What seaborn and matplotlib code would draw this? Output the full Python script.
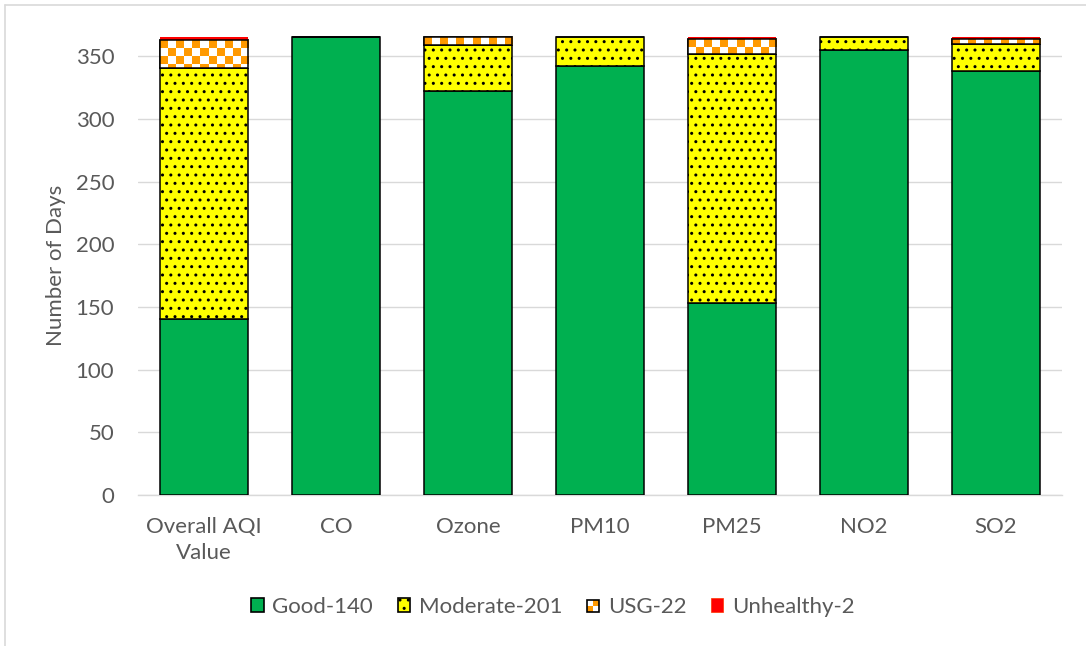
import numpy as np
import pandas as pd
import matplotlib.pyplot as plt
import seaborn as sns
from matplotlib.patches import Rectangle
from matplotlib.lines import Line2D
from matplotlib.legend_handler import HandlerBase

categories = ["Overall AQI\nValue", "CO", "Ozone", "PM10", "PM25", "NO2", "SO2"]
good = [140, 365, 322, 342, 153, 355, 338]
moderate = [201, 0, 37, 23, 199, 10, 22]
usg = [22, 0, 6, 0, 12, 0, 4]
unhealthy = [2, 0, 0, 0, 1, 0, 1]
labels = ["Good-140", "Moderate-201", "USG-22", "Unhealthy-2"]

GREEN = "#00B050"
YELLOW = "#FFFF00"
ORANGE = "#FF9900"
RED = "#FF0000"
GREY = "#595959"
FS = 16

sns.set_theme(style="white")
plt.rcParams["font.family"] = ["Lato", "DejaVu Sans"]
plt.rcParams["hatch.color"] = "black"
plt.rcParams["hatch.linewidth"] = 1.0

df = pd.DataFrame({"cat": categories, "good": good, "moderate": moderate,
                   "usg": usg, "unhealthy": unhealthy})

fig = plt.figure(figsize=(10.86, 6.46), dpi=100)
ax = fig.add_axes([0.127, 0.234, 0.851, 0.71])

bw = 0.667
lw = 1.1
b1 = df["good"].values
b2 = b1 + df["moderate"].values
b3 = b2 + df["usg"].values

sns.barplot(data=df, x="cat", y="good", color=GREEN, saturation=1, width=bw,
            edgecolor="black", linewidth=lw, ax=ax, zorder=3)
sns.barplot(data=df, x="cat", y="moderate", bottom=b1, color=YELLOW, saturation=1,
            width=bw, edgecolor="black", linewidth=lw, hatch="..", ax=ax, zorder=3)
sns.barplot(data=df, x="cat", y="usg", bottom=b2, color="white", saturation=1,
            width=bw, edgecolor="black", linewidth=lw, ax=ax, zorder=3)
usg_bars = ax.containers[-1]
sns.barplot(data=df, x="cat", y="unhealthy", bottom=b3, color=RED, saturation=1,
            width=bw, linewidth=0, ax=ax, zorder=3)

# checkerboard fill for USG segments
cw = bw / 11
ch = 6.4
for p in usg_bars.patches:
    h = p.get_height()
    if h <= 0:
        continue
    x0 = p.get_x()
    top = p.get_y() + h
    nrow = int(np.ceil(h / ch))
    ncol = 11
    img = (np.indices((nrow, ncol)).sum(axis=0) % 2 == 0)
    rgba = np.ones((nrow, ncol, 4))
    rgba[img] = [1.0, 0.6, 0.0, 1.0]
    im = ax.imshow(rgba, extent=(x0, x0 + cw * ncol, top - nrow * ch, top),
                   aspect="auto", interpolation="nearest", zorder=3.5)
    im.set_clip_path(p)
    ax.add_patch(Rectangle((x0, p.get_y()), p.get_width(), h, fill=False,
                           edgecolor="black", linewidth=lw, zorder=3.6))
ax.set_ylim(0, 366)
ax.set_xlim(-0.5, len(categories) - 0.5)

ax.set_yticks(range(0, 351, 50))
ax.yaxis.grid(True, color="#D9D9D9", linewidth=1.0, zorder=0)
ax.set_axisbelow(True)
for s in ["top", "right", "left"]:
    ax.spines[s].set_visible(False)
ax.spines["bottom"].set_color("#D9D9D9")
ax.spines["bottom"].set_linewidth(1.0)
ax.tick_params(axis="both", length=0, labelsize=FS, colors=GREY)
ax.tick_params(axis="y", pad=17)
ax.tick_params(axis="x", pad=16)
for t in ax.get_xticklabels():
    t.set_linespacing(1.4)
ax.set_xlabel("")
ax.set_ylabel("Number of Days", fontsize=FS, color=GREY)
ax.yaxis.set_label_coords(-0.078, 0.5)


class CheckerHandler(HandlerBase):
    def create_artists(self, legend, orig_handle, xd, yd, width, height, fontsize, trans):
        s = min(width, height)
        x0 = -xd
        y0 = -yd
        hs = s / 2
        arts = [
            Rectangle((x0, y0 + hs), hs, hs, facecolor="white", edgecolor="none", transform=trans),
            Rectangle((x0 + hs, y0 + hs), hs, hs, facecolor=ORANGE, edgecolor="none", transform=trans),
            Rectangle((x0, y0), hs, hs, facecolor=ORANGE, edgecolor="none", transform=trans),
            Rectangle((x0 + hs, y0), hs, hs, facecolor="white", edgecolor="none", transform=trans),
            Rectangle((x0, y0), s, s, fill=False, edgecolor="black", linewidth=1.2, transform=trans),
        ]
        return arts


h_good = Rectangle((0, 0), 1, 1, facecolor=GREEN, edgecolor="black", linewidth=1.2)
h_mod = Rectangle((0, 0), 1, 1, facecolor=YELLOW, edgecolor="black", linewidth=1.2, hatch="..")
h_usg = Rectangle((0, 0), 1, 1, facecolor=ORANGE)
h_unh = Rectangle((0, 0), 1, 1, facecolor=RED, edgecolor="#FF3300", linewidth=0.5)

leg = fig.legend([h_good, h_mod, h_usg, h_unh], labels, loc="center",
                 bbox_to_anchor=(553 / 1086, 1 - 607 / 646), ncol=4, frameon=False,
                 fontsize=FS, handlelength=0.55, handleheight=0.55,
                 handletextpad=0.4, columnspacing=1.1,
                 handler_map={h_usg: CheckerHandler()})
for t in leg.get_texts():
    t.set_color(GREY)

# outer chart border (left and top edges)
fig.add_artist(Line2D([5 / 1086, 5 / 1086], [0, 1 - 5 / 646], color="#D9D9D9", lw=1.2))
fig.add_artist(Line2D([5 / 1086, 1], [1 - 5 / 646, 1 - 5 / 646], color="#D9D9D9", lw=1.2))

fig.savefig("out.png", dpi=100, facecolor="white")
